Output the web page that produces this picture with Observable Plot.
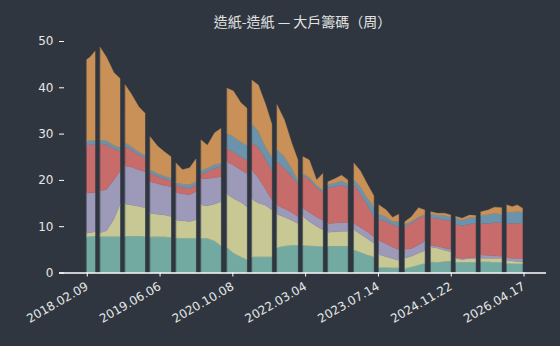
<!DOCTYPE html>
<html><head><meta charset="utf-8">
<script src="https://cdn.jsdelivr.net/npm/d3@7"></script>
<script src="https://cdn.jsdelivr.net/npm/@observablehq/plot@0.6"></script>
<style>
html,body{margin:0;padding:0;background:#2f3640;}
#title{box-sizing:border-box;height:32px;padding:13px 14px 0 59px;text-align:center;font:14px/16px "Noto Sans CJK TC",sans-serif;color:#e2e2e2;}
</style></head><body>
<div id="title">造紙-造紙 — 大戶籌碼（周）</div>
<div id="chart"></div>
<script>
const weeks = [0,3,8, 13,19,26,32, 37,43,50,56, 61,68,75,81, 86,92,99,105, 110,116,123,129, 135,141,148,154, 159,165,172,178, 183,190,197,203, 208,214,221,227, 232,239,245,251, 257,263,270,276, 281,288,294,300, 306,312,319,325, 331,337,344,350, 355,361,368,374, 379,386,392,399, 404,409,414,419];
const gapWeeks = [10.5,34.5,58.5,83.5,107.5,132,156.5,180.5,205.5,229.5,254,278.5,303,328,352.5,376.5,401.5];
const seriesNames = ["1000張以上","800-1000張","600-800張","400-600張","200-400張","100-200張"];
const colors = ["#72a9a1","#c8c895","#9d99b8","#c86b6b","#6b93ab","#c99158"];
const teal = [7.7,7.8,7.9, 7.8,7.8,7.8,7.8, 7.9,7.9,7.9,7.8, 7.7,7.7,7.7,7.6, 7.5,7.4,7.4,7.4, 7.4,7.4,6.8,5.8, 5.4,4.2,3.4,2.8, 3.4,3.4,3.4,3.4, 5.4,5.7,5.9,5.9, 5.9,5.8,5.7,5.6, 5.7,5.7,5.7,5.7, 4.9,4.4,3.8,3.4, 1.1,1.1,1.0,1.0, 0.9,1.2,1.6,2.0, 2.3,2.2,2.4,2.5, 2.2,2.2,2.2,2.2, 2.3,2.3,2.2,2.2, 2.0,1.9,1.9,1.9];
const yellow = [0.8,0.8,0.9, 0.8,1.2,3.7,6.9, 6.9,6.7,6.4,6.2, 5.1,4.9,4.7,4.5, 3.8,3.8,3.6,4.0, 7.2,7.0,8.0,9.5, 11.5,11.8,11.8,11.4, 12.4,11.6,11.1,10.1, 7.2,6.3,5.4,4.7, 6.2,5.2,4.3,3.6, 3.0,3.1,3.2,3.2, 4.3,3.9,3.5,2.9, 2.8,2.3,2.0,1.6, 2.2,2.3,2.6,2.7, 3.2,3.1,2.4,2.0, 0.8,0.6,0.8,0.8, 0.8,0.8,0.9,0.9, 0.6,0.6,0.5,0.4];
const lavender = [8.6,8.6,8.5, 9.0,9.0,8.5,7.3, 8.2,8.2,7.9,7.8, 6.8,6.6,6.4,6.4, 6.0,5.8,5.8,6.1, 5.7,5.9,5.7,5.4, 7.0,7.2,7.0,7.2, 6.3,5.5,3.5,2.2, 1.9,1.8,1.7,1.5, 1.8,2.0,2.0,2.1, 1.9,1.9,1.9,1.9, 1.4,1.5,1.5,1.4, 3.0,2.8,2.5,2.3, 1.9,1.7,1.8,2.1, 0.3,0.4,0.5,0.5, 0.3,0.2,0.2,0.3, 0.7,0.6,0.5,0.4, 0.6,0.6,0.7,0.7];
const red = [10.4,10.4,10.3, 10.2,9.6,6.8,4.2, 4.2,3.7,3.2,3.0, 1.9,1.6,1.4,1.3, 1.6,1.4,1.4,1.4, 1.0,1.5,2.0,2.2, 2.9,2.8,2.8,2.9, 5.9,6.5,6.5,6.4, 9.5,8.7,7.8,7.2, 7.1,7.0,6.3,6.1, 7.7,7.9,8.1,7.5, 8.4,7.2,5.7,4.4, 4.6,4.8,4.8,5.0, 5.0,5.4,5.7,5.5, 6.0,5.9,6.1,6.2, 7.1,7.1,7.3,7.3, 6.8,6.9,7.2,7.3, 7.4,7.5,7.6,7.5];
const blue = [0.8,0.9,0.9, 0.8,0.9,0.7,0.8, 0.8,0.7,0.6,0.5, 0.7,0.6,0.6,0.6, 0.5,0.7,0.8,0.7, 0.8,0.7,0.8,0.7, 3.3,3.3,3.2,3.2, 4.0,3.5,2.5,2.9, 2.5,2.5,1.7,0.7, 0.4,0.5,0.5,0.4, 0.7,0.8,0.9,0.7, 1.0,1.5,1.5,2.1, 1.1,1.0,0.7,1.1, 0.5,0.4,0.3,0.3, 0.8,0.8,0.9,0.8, 1.4,1.2,1.4,1.3, 1.8,1.9,2.0,1.8, 2.5,2.4,2.5,2.5];
const orange = [17.7,18.0,19.3, 20.0,18.0,15.7,14.9, 12.5,11.3,9.8,9.1, 7.1,5.9,5.2,4.6, 4.2,3.1,3.6,4.9, 6.5,5.0,6.9,7.5, 9.7,9.9,8.5,8.0, 9.5,10.0,9.3,7.0, 9.7,8.0,5.5,4.3, 3.6,3.8,1.2,3.6, 0.6,0.9,1.2,1.0, 3.6,3.5,3.0,2.4, 2.0,1.5,0.9,1.6, 0.5,1.0,2.0,0.9, 0.5,0.4,0.5,0.4, 0.3,0.4,0.5,0.4, 0.7,1.0,1.3,1.4, 1.5,1.2,1.4,0.9];
const tickWeeks = [0,70,140,210,280,350,420];
const tickLabels = ["2018.02.09","2019.06.06","2020.10.08","2022.03.04","2023.07.14","2024.11.22","2026.04.17"];
const yTicks = [0,10,20,30,40,50];

const layers = [teal, yellow, lavender, red, blue, orange];
const rows = [];
weeks.forEach((w, i) => {
  const seg = gapWeeks.filter(g => g < w).length;
  layers.forEach((arr, k) => rows.push({week: w, seg, series: seriesNames[k], value: arr[i]}));
});

const chart = Plot.plot({
  width: 560, height: 314,
  marginLeft: 59, marginRight: 14, marginTop: 9, marginBottom: 73.5,
  style: {background: "#2f3640", color: "#e0e0e0", fontFamily: "DejaVu Sans", fontSize: "12px"},
  x: {domain: [-26.7, 441.6]},
  y: {domain: [0, 50]},
  color: {domain: seriesNames, range: colors},
  marks: [
    Plot.areaY(rows, {x: "week", y: "value", fill: "series", stroke: "series", strokeWidth: 0.4, z: d => d.series + "|" + d.seg}),
    Plot.ruleY([0], {stroke: "#ffffff", strokeWidth: 1.5}),
    Plot.axisY({ticks: yTicks, tickSize: 5, dx: 5, tickPadding: 6, label: null, stroke: "#ffffff", fill: "#e6e6e6"}),
    Plot.axisX({ticks: tickWeeks, tickFormat: d => tickLabels[tickWeeks.indexOf(d)], tickRotate: -30, tickSize: 4, label: null, stroke: "#ffffff", fill: "#e6e6e6"})
  ]
});
document.getElementById("chart").appendChild(chart);
</script>
</body></html>
